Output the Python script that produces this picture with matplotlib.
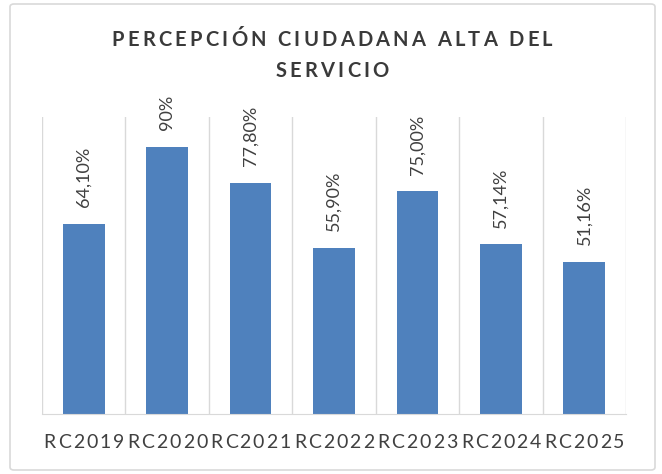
import matplotlib
matplotlib.use("Agg")
import matplotlib.pyplot as plt
from matplotlib.patches import FancyBboxPatch

categories = ["RC2019", "RC2020", "RC2021", "RC2022", "RC2023", "RC2024", "RC2025"]
values = [64.10, 90.0, 77.80, 55.90, 75.00, 57.14, 51.16]
value_labels = ["64,10%", "90%", "77,80%", "55,90%", "75,00%", "57,14%", "51,16%"]
title_lines = ["PERCEPCIÓN CIUDADANA ALTA DEL", "SERVICIO"]

W, H = 662, 474
BAR = "#4f81bd"
GRID = "#d9d9d9"
TXT = "#404040"
FONT = "Lato"

fig = plt.figure(figsize=(W / 100, H / 100), dpi=100)
renderer = fig.canvas.get_renderer()


def tracked_text(x_px, y_px, s, size, track, weight="normal", color=TXT):
    # draw a string char by char with extra letter spacing, centred on x_px
    parts = []
    for ch in s:
        t = fig.text(0, 0, ch, fontsize=size, family=FONT, weight=weight,
                     color=color, ha="left", va="center")
        if ch == " ":
            w = size * 0.35
        else:
            w = t.get_window_extent(renderer).width
        parts.append((t, w))
    total = sum(w for _, w in parts) + track * (len(parts) - 1)
    x = x_px - total / 2
    for t, w in parts:
        t.set_position((x / W, 1 - y_px / H))
        x += w + track


# outer chart border
fig.patches.append(FancyBboxPatch((10 / W, 4 / H), 645 / W, 466 / H,
                                  boxstyle="round,pad=0,rounding_size=0.006",
                                  transform=fig.transFigure, facecolor="none",
                                  edgecolor=GRID, linewidth=1.2))

left, right, bottom, top = 42, 626, 414, 117
ax = fig.add_axes([left / W, 1 - bottom / H, (right - left) / W, (bottom - top) / H])

x = range(len(categories))
ax.bar(x, values, width=0.5, color=BAR, zorder=3)

for i, (v, lab) in enumerate(zip(values, value_labels)):
    ax.annotate(lab, (i, v), xytext=(0, 12), textcoords="offset points",
                rotation=90, ha="center", va="bottom", fontsize=13,
                family=FONT, color=TXT)

ax.set_xlim(-0.5, len(categories) - 0.5)
ax.set_ylim(0, 100)
for b in [i - 0.5 for i in range(len(categories) + 1)]:
    ax.axvline(b, color=GRID, linewidth=1, zorder=1)
for s in ["top", "right", "left"]:
    ax.spines[s].set_visible(False)
ax.spines["bottom"].set_color(GRID)
ax.spines["bottom"].set_zorder(4)
ax.set_xticks([])
ax.set_yticks([])

cat_w = (right - left) / len(categories)
for i, c in enumerate(categories):
    tracked_text(left + cat_w * (i + 0.5), 443, c, 14, 2.0)

tracked_text(332, 40, title_lines[0], 14.5, 3.2, weight="bold", color="#3a3a3a")
tracked_text(332, 71, title_lines[1], 14.5, 3.2, weight="bold", color="#3a3a3a")

fig.savefig("out.png", dpi=100)
